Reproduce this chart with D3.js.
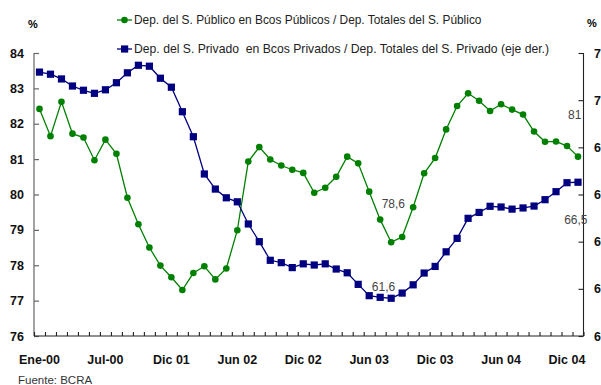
<!DOCTYPE html>
<html><head><meta charset="utf-8">
<script src="https://cdn.jsdelivr.net/npm/d3@7"></script>
<style>body{margin:0;background:#fff}svg{display:block}text{font-family:"Liberation Sans",Arial,sans-serif}.leg{white-space:pre}</style>
</head><body>
<svg id="c" width="601" height="385"></svg>
<script>
// ---- data ----
const categories = d3.range(50); // monthly observations, 50 points
const tickIndex = [0, 6, 12, 18, 24, 30, 36, 42, 48];
const tickLabels = ["Ene-00","Jul-00","Dic 01","Jun 02","Dic 02","Jun 03","Dic 03","Jun 04","Dic 04"];
const publicoSeries = [82.42,81.65,82.62,81.72,81.61,80.97,81.55,81.15,79.91,79.16,
  78.50,77.99,77.66,77.30,77.78,77.97,77.60,77.91,78.99,80.93,
  81.34,80.99,80.82,80.70,80.61,80.05,80.19,80.50,81.07,80.88,
  80.08,79.29,78.65,78.80,79.64,80.60,81.03,81.84,82.50,82.86,
  82.65,82.36,82.55,82.40,82.26,81.78,81.49,81.50,81.37,81.07];
const privadoSeries = [71.19,71.10,70.90,70.60,70.42,70.29,70.44,70.74,71.16,71.48,
  71.44,70.93,70.55,69.51,68.45,66.87,66.23,65.86,65.69,64.75,
  64.00,63.21,63.11,62.90,63.06,63.01,63.06,62.84,62.68,62.19,
  61.71,61.64,61.60,61.82,62.17,62.67,62.95,63.57,64.14,64.99,
  65.24,65.50,65.47,65.38,65.43,65.51,65.78,66.12,66.50,66.52];
const leftTicks = [76,77,78,79,80,81,82,83,84];
const rightTicks = [60,62,64,66,68,70,72];
const seriesNames = ["Dep. del S. Público en Bcos Públicos / Dep. Totales del S. Público",
  "Dep. del S. Privado  en Bcos Privados / Dep. Totales del S. Privado (eje der.)"];
const annotations = [
  {text:"78,6", idx:32.2, series:"publico", value:78.65, dy:-34},
  {text:"61,6", idx:31.3, series:"privado", value:61.60, dy:-7},
  {text:"81",   idx:48.7, series:"publico", value:81.37, dy:-27},
  {text:"66,5", idx:48.8, series:"privado", value:66.50, dy:41}
];

const svg = d3.select("#c");
const L = 34, R = 583.5, T = 53, B = 336;
const x = d3.scaleBand().domain(categories).range([L, R]).padding(0);
const xb = d3.scaleLinear().domain([0, categories.length]).range([L, R]);
const yL = d3.scaleLinear().domain([76, 84]).range([B, T]);
const yR = d3.scaleLinear().domain([60, 72]).range([B, T]);
const cx = i => x(i) + x.bandwidth() / 2;
const green = "#008000", navy = "#000080";

// axes
const gl = svg.append("g").attr("transform", `translate(${L},0)`)
  .call(d3.axisRight(yL).tickValues(leftTicks).tickSize(5).tickFormat(""));
gl.selectAll("path,line").attr("stroke", "#666").attr("stroke-width", 1.2);
gl.select(".domain").attr("d", `M0,${T}V${B}`);
const gr = svg.append("g").attr("transform", `translate(${R},0)`)
  .call(d3.axisLeft(yR).tickValues(rightTicks).tickSize(5).tickFormat(""));
gr.selectAll("path,line").attr("stroke", "#222").attr("stroke-width", 1.1);
gr.select(".domain").attr("d", `M0,${T}V${B}`);
const gb = svg.append("g").attr("transform", `translate(0,${B})`)
  .call(d3.axisTop(xb).tickValues(d3.range(0, categories.length + 1)).tickSize(4).tickFormat(""));
gb.selectAll("path,line").attr("stroke", "#222").attr("stroke-width", 1.1);
gb.select(".domain").attr("d", `M${L},0H${R}`);

// tick labels
svg.append("g").selectAll("text").data(leftTicks).join("text")
  .attr("x", 24).attr("y", d => yL(d)).attr("dy", "0.36em").attr("text-anchor", "end")
  .attr("font-size", 12.5).attr("font-weight", "bold").attr("fill", "#111").text(d => d);
svg.append("g").selectAll("text").data(rightTicks).join("text")
  .attr("x", 594).attr("y", d => yR(d)).attr("dy", "0.36em").attr("text-anchor", "start")
  .attr("font-size", 12.5).attr("font-weight", "bold").attr("fill", "#111").text(d => d);
svg.append("g").selectAll("text").data(tickIndex).join("text")
  .attr("x", d => cx(d)).attr("y", 364).attr("text-anchor", "middle")
  .attr("font-size", 12.5).attr("font-weight", "bold").attr("fill", "#111")
  .text((d, i) => tickLabels[i]);
svg.append("text").attr("x", 33).attr("y", 28).attr("text-anchor", "middle")
  .attr("font-size", 11).attr("font-weight", "bold").text("%");
svg.append("text").attr("x", 592).attr("y", 27).attr("text-anchor", "middle")
  .attr("font-size", 11).attr("font-weight", "bold").text("%");
svg.append("text").attr("x", 18).attr("y", 384).attr("font-size", 11.5).attr("fill", "#333").text("Fuente: BCRA");

// lines
const lineP = d3.line().x((d, i) => cx(i)).y(d => yL(d));
const lineV = d3.line().x((d, i) => cx(i)).y(d => yR(d));
svg.append("path").datum(publicoSeries).attr("d", lineP).attr("fill", "none").attr("stroke", green).attr("stroke-width", 1.3);
svg.append("path").datum(privadoSeries).attr("d", lineV).attr("fill", "none").attr("stroke", navy).attr("stroke-width", 1.3);
svg.append("g").selectAll("circle").data(publicoSeries).join("circle")
  .attr("cx", (d, i) => cx(i)).attr("cy", d => yL(d)).attr("r", 3.3).attr("fill", green);
svg.append("g").selectAll("rect").data(privadoSeries).join("rect")
  .attr("x", (d, i) => cx(i) - 3.6).attr("y", d => yR(d) - 3.6).attr("width", 7.2).attr("height", 7.2).attr("fill", navy);

// annotations
svg.append("g").selectAll("text").data(annotations).join("text")
  .attr("x", d => xb(d.idx + 0.5)).attr("y", d => (d.series === "publico" ? yL(d.value) : yR(d.value)) + d.dy)
  .attr("text-anchor", "middle").attr("font-size", 12).attr("fill", "#444").text(d => d.text);

// legend
const leg = svg.append("g");
[0, 1].forEach(k => {
  const yy = k === 0 ? 20 : 49;
  const col = k === 0 ? green : navy;
  leg.append("line").attr("x1", 117).attr("x2", 132).attr("y1", yy).attr("y2", yy).attr("stroke", col).attr("stroke-width", 1.3);
  if (k === 0) leg.append("circle").attr("cx", 124.5).attr("cy", yy).attr("r", 3.3).attr("fill", col);
  else leg.append("rect").attr("x", 121).attr("y", yy - 3.6).attr("width", 7.2).attr("height", 7.2).attr("fill", col);
  leg.append("text").attr("class", "leg").attr("x", 134).attr("y", yy + 4.3).attr("font-size", k === 0 ? 11.9 : 12.2)
    .attr("fill", "#222").text(seriesNames[k]);
});
</script>
</body></html>
